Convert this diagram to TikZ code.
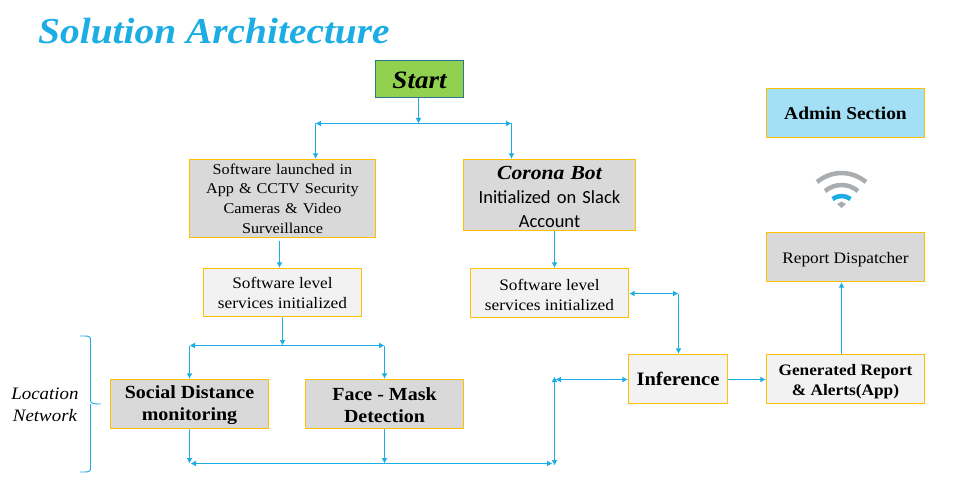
\documentclass[tikz,border=0pt]{standalone}
\usepackage{fontspec}
\setmainfont[FakeStretch=1.08]{Liberation Serif}
\newfontfamily\carl{Carlito}
\usetikzlibrary{arrows.meta}
\definecolor{cblue}{HTML}{1CADE4}
\definecolor{gold}{HTML}{FFC000}
\definecolor{gboxa}{HTML}{D9D9D9}
\definecolor{gboxb}{HTML}{F2F2F2}
\definecolor{wifig}{HTML}{A9ADB0}
\definecolor{startfill}{HTML}{92D050}
\definecolor{startline}{HTML}{2E758E}
\definecolor{adminfill}{HTML}{A3DFF5}
\newcommand{\fsz}[2]{\fontsize{#1}{#2}\selectfont}
\newcommand{\vc}[2]{\smash{\raisebox{-#1pt}{#2}}}
\tikzset{
  x=1pt,y=-1pt,
  boxbase/.style={draw=gold,line width=1.3pt,align=center,inner sep=0pt,text=black},
  darkbox/.style={boxbase,fill=gboxa},
  lightbox/.style={boxbase,fill=gboxb},
  link/.style={draw=cblue,line width=1.1pt,-{Latex[length=5.5pt,width=6pt]}},
  dlink/.style={draw=cblue,line width=1.1pt,{Latex[length=5.5pt,width=6pt]}-{Latex[length=5.5pt,width=6pt]}},
  plain/.style={draw=cblue,line width=0.9pt},
}
\begin{document}
\begin{tikzpicture}
\useasboundingbox (0,0) rectangle (958,497);
\node[anchor=base west,inner sep=0pt,text=cblue,font=\fsz{36.5}{40}\bfseries\itshape] (title) at (38,44) {Solution Architecture};
\node[boxbase,draw=startline,fill=startfill,minimum width=88pt,minimum height=37pt,font=\fsz{25}{28}\bfseries\itshape,text height=19pt] (start) at (419.5,79) {Start};
\node[darkbox,minimum width=186pt,minimum height=78pt,font=\fsz{15}{19.7},text width=175pt] (launch) at (282.5,198.5) {Software launched in\\App \& CCTV Security\\Cameras \& Video\\Surveillance};
\node[darkbox,minimum width=172pt,minimum height=71pt,text width=165pt,font=\fsz{18.5}{24},text height=17.5pt] (bot) at (549.5,195) {{\bfseries\itshape\fsz{20}{24}Corona Bot}\\{\carl Initialized on Slack}\\{\carl Account}};
\node[lightbox,minimum width=158pt,minimum height=48pt,font=\fsz{16}{20},text height=33pt] (svcl) at (282.5,292.5) {Software level\\services initialized};
\node[lightbox,minimum width=158pt,minimum height=49pt,font=\fsz{16}{20},text height=35pt] (svcr) at (549.5,293) {Software level\\services initialized};
\node[darkbox,minimum width=158pt,minimum height=49pt,font=\fsz{18.5}{22}\bfseries,text height=36.5pt] (social) at (189.5,404) {Social Distance\\monitoring};
\node[darkbox,minimum width=158pt,minimum height=49pt,font=\fsz{18.5}{22}\bfseries,text height=36.5pt] (face) at (384.5,404) {Face - Mask\\Detection};
\node[lightbox,minimum width=99pt,minimum height=49pt,font=\fsz{19}{22}\bfseries] (inf) at (678,379) {Inference};
\node[lightbox,minimum width=158pt,minimum height=49pt,font=\fsz{16}{20}\bfseries,text height=37pt] (gen) at (845.5,379) {Generated Report\\\& Alerts(App)};
\node[darkbox,minimum width=158pt,minimum height=49pt,font=\fsz{16}{20}] (disp) at (845.5,257) {\vc{6}{Report Dispatcher}};
\node[boxbase,fill=adminfill,minimum width=158pt,minimum height=49pt,font=\fsz{18}{22}\bfseries] (admin) at (845.5,113) {Admin Section};
\node[anchor=center,align=center,inner sep=0pt,font=\fsz{17.5}{22}\itshape] (loc) at (45,404.5) {Location\\Network};
% junctions
\coordinate (j1) at (418.5,123.5);
\coordinate (j1l) at (315.5,123.5);
\coordinate (j1r) at (511.5,123.5);
\coordinate (j2) at (282.5,345.5);
\coordinate (j2l) at (189.5,345.5);
\coordinate (j2r) at (384.5,345.5);
\coordinate (j3l) at (189.5,463.5);
\coordinate (j3m) at (384.5,463.5);
\coordinate (j3r) at (554.5,463.5);
\coordinate (j4) at (554.5,379.5);
\coordinate (j5) at (678.5,293.5);
% connectors
\draw[link] (start.south -| j1) -- (j1);
\draw[dlink] (j1l) -- (j1r);
\draw[link] (j1l) -- (launch.north -| j1l);
\draw[link] (j1r) -- (bot.north -| j1r);
\draw[link] ([yshift=-2.5pt]launch.south -| 279.5,0) -- (svcl.north -| 279.5,0);
\draw[link] (bot.south -| 554.5,0) -- (svcr.north -| 554.5,0);
\draw[link] (svcl.south -| j2) -- (j2);
\draw[dlink] (j2l) -- (j2r);
\draw[link] (j2l) -- (social.north -| j2l);
\draw[link] (j2r) -- (face.north -| j2r);
\draw[link] (social.south -| j3l) -- (j3l);
\draw[link] (face.south -| j3m) -- (j3m);
\draw[dlink] ([xshift=1pt]j3l) -- ([xshift=-2pt]j3r);
\draw[dlink] ([yshift=-2pt]j3r) -- ([yshift=3pt]j4);
\draw[dlink] ([xshift=1pt]j4) -- (inf.west |- j4);
\draw[dlink] (svcr.east |- j5) -- (j5);
\draw[link] (j5) -- (inf.north -| j5);
\draw[link] (inf.east |- 0,379.5) -- (gen.west |- 0,379.5);
\draw[link] (gen.north -| 841.5,0) -- (disp.south -| 841.5,0);
% brace
\draw[plain] (80,336) .. controls (86,336) and (90.5,335.5) .. (90.5,339)
  -- (90.5,400) .. controls (90.5,403) and (92,404) .. (101,404)
  (90.5,404) -- (90.5,469) .. controls (90.5,472.5) and (86,472) .. (80,472);
% wifi
\draw[wifig,line width=4.5pt] (817,182) .. controls (832,170) and (851,170) .. (866,182);
\draw[wifig,line width=4.5pt] (825,191) .. controls (835,183) and (848,183) .. (858,191);
\draw[cblue,line width=4.5pt] (832.5,199) .. controls (838,195) and (845,195) .. (850.5,199);
\fill[wifig] (837,204) -- (841.5,201.5) -- (846,204) -- (841.5,208) -- cycle;
\end{tikzpicture}
\end{document}
